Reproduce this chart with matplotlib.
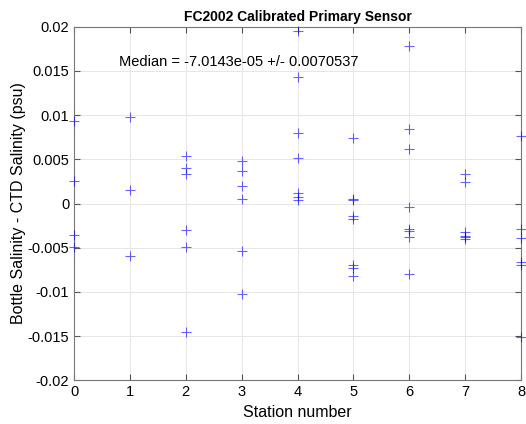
import numpy as np
import matplotlib
matplotlib.use('Agg')
import matplotlib.pyplot as plt

plt.rcParams['font.family'] = ['Liberation Sans', 'DejaVu Sans']

# station number and salinity difference (psu)
station = [0, 0, 0, 0,
           1, 1, 1,
           2, 2, 2, 2, 2, 2,
           3, 3, 3, 3, 3, 3,
           4, 4, 4, 4, 4, 4, 4,
           5, 5, 5, 5, 5, 5, 5, 5,
           6, 6, 6, 6, 6, 6, 6, 6,
           7, 7, 7, 7, 7, 7,
           8, 8, 8, 8, 8, 8]
dsal = [0.0093, 0.00255, -0.0036, -0.0049,
        0.00976, 0.0015, -0.00598,
        0.00534, 0.0040, 0.00334, -0.00304, -0.00493, -0.01458,
        0.00478, 0.00371, 0.00198, 0.00048, -0.00538, -0.01028,
        0.01953, 0.01429, 0.00795, 0.00515, 0.00115, 0.00077, 0.0004,
        0.00738, 0.0005, 0.0004, -0.0014, -0.0017, -0.0070, -0.0073, -0.0082,
        0.01783, 0.0084, 0.00617, -0.00045, -0.0029, -0.0031, -0.0038, -0.00792,
        0.00337, 0.00247, -0.0032, -0.0037, -0.0038, -0.0040,
        0.00764, -0.00285, -0.0039, -0.0066, -0.0070, -0.01508]
median_txt = 'Median = -7.0143e-05 +/- 0.0070537'

fig = plt.figure(figsize=(5.26, 4.24), dpi=100)
ax = fig.add_axes([0.1407, 0.103, 0.8498, 0.834])

ax.plot(station, dsal, '+', color='blue', alpha=0.6, markersize=6.5, markeredgewidth=0.8,
        clip_on=False, zorder=3)

ax.set_xlim(0, 8)
ax.set_ylim(-0.02, 0.02)
ax.set_xticks(range(0, 9))
ax.set_yticks(np.arange(-0.02, 0.0201, 0.005))
ax.set_yticklabels(['-0.02', '-0.015', '-0.01', '-0.005', '0', '0.005', '0.01', '0.015', '0.02'])
ax.grid(True, color='#e6e6e6', linewidth=0.7)
ax.set_axisbelow(True)
ax.tick_params(direction='in', length=4, labelsize=10.5, color='#555555', top=True, right=True,
               labeltop=False, labelright=False)
for s in ax.spines.values():
    s.set_color('#777777')
    s.set_linewidth(0.8)

ax.set_xlabel('Station number', fontsize=11.5)
ax.set_ylabel('Bottle Salinity - CTD Salinity (psu)', fontsize=11.5, labelpad=1)
ax.set_title('FC2002 Calibrated Primary Sensor', fontsize=10, fontweight='bold', pad=4)
ax.text(0.8, 0.016, median_txt, fontsize=10.5, va='center', ha='left')

fig.savefig('out.png', dpi=100)
